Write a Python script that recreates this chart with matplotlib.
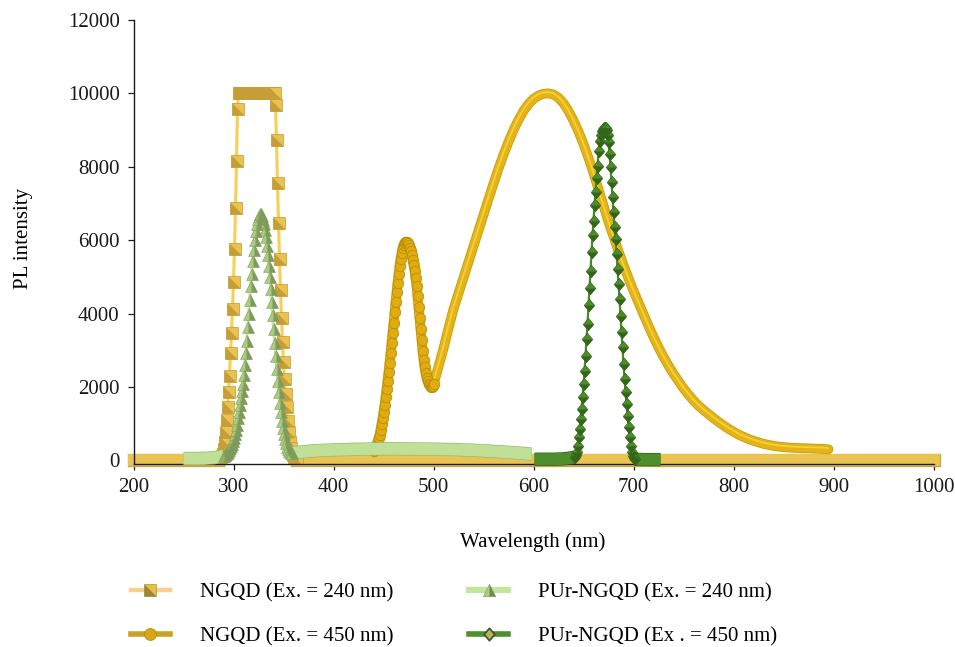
import numpy as np
import matplotlib
matplotlib.use("Agg")
import matplotlib.pyplot as plt
from matplotlib.path import Path
from matplotlib.lines import Line2D
from matplotlib.legend_handler import HandlerTuple
import matplotlib.patheffects as pe

plt.rcParams['font.family'] = ['Liberation Serif', 'DejaVu Serif']

# ---------------- data ----------------
# NGQD, Ex. = 240 nm  (baseline, 1 nm resolved peak, baseline)
ngqd240_base_wl = [200, 284]
ngqd240_base = [0, 0]
ngqd240_peak_wl = list(range(284, 364))
ngqd240_peak = ([0, 20, 40, 70, 110, 170, 320, 490, 770, 1090, 1450, 1860, 2310,
                 2930, 3480, 4130, 4870, 5760, 6870, 8160, 9580]
                + [10000] * 37
                + [9670, 8720, 7560, 6470, 5490, 4630, 3870, 3230, 2690, 2220, 1810,
                   1450, 1080, 760, 490, 330, 220, 140, 90, 50, 20, 0])
ngqd240_tail_wl = [363, 1000]
ngqd240_tail = [0, 0]

# NGQD, Ex. = 450 nm  (1 nm steps over the first band, 5 nm steps after)
ngqd450_fine_wl = list(range(440, 501))
ngqd450_fine = [250, 300, 360, 430, 510, 600, 700, 830, 980, 1140,
                1320, 1510, 1720, 1940, 2170, 2410, 2660, 2920, 3190, 3470,
                3750, 4030, 4310, 4580, 4840, 5080, 5300, 5490, 5650, 5780,
                5870, 5930, 5960, 5950, 5920, 5870, 5800, 5710, 5600, 5470,
                5320, 5150, 4960, 4750, 4470, 4170, 3870, 3570, 3270, 2980,
                2730, 2530, 2370, 2250, 2160, 2090, 2040, 2010, 2000, 2020,
                2070]
ngqd450_wl = list(range(505, 900, 5))
ngqd450 = [2550, 3050, 3600, 4120, 4550, 4980, 5410, 5840, 6270, 6700,
           7120, 7540, 7950, 8330, 8680, 9000, 9280, 9520, 9710, 9850,
           9940, 9990, 10000, 9970, 9880, 9730, 9520, 9260, 8960, 8620,
           8240, 7830, 7390, 6940, 6500, 6100, 5700, 5320, 4960, 4620,
           4300, 3980, 3660, 3360, 3080, 2820, 2580, 2360, 2160, 1960,
           1790, 1630, 1490, 1370, 1260, 1150, 1050, 950, 860, 780,
           700, 640, 580, 530, 490, 450, 420, 395, 375, 360,
           350, 340, 335, 330, 325, 320, 315, 310, 300]

# PUr-NGQD, Ex. = 240 nm
pur240_base_wl = [250, 260, 270, 280, 290]
pur240_base = [50, 50, 55, 70, 120]
pur240_peak_wl = list(range(290, 359))
pur240_peak = [120, 140, 170, 200, 240, 280, 330, 390, 450, 520,
               610, 720, 840, 970, 1140, 1320, 1510, 1690, 1880, 2070,
               2320, 2600, 2920, 3260, 3620, 3990, 4370, 4740, 5090, 5420,
               5730, 6010, 6250, 6440, 6580, 6670, 6710, 6700, 6650, 6560,
               6440, 6280, 6080, 5850, 5590, 5300, 4990, 4660, 4310, 3950,
               3580, 3210, 2850, 2500, 2170, 1860, 1570, 1310, 1080, 880,
               710, 570, 460, 370, 300, 250, 220, 200, 200]
pur240_tail_wl = [358, 380, 400, 420, 440, 460, 480, 500, 520, 540, 560, 580, 598]
pur240_tail = [200, 260, 285, 300, 310, 315, 310, 305, 295, 275, 245, 210, 170]

# PUr-NGQD, Ex. = 450 nm
pur450_base_wl = [601, 610, 620, 630, 641]
pur450_base = [30, 30, 30, 40, 80]
pur450_peak_wl = list(range(641, 702))
pur450_peak = [80, 150, 220, 400, 630, 850, 1130, 1400, 1720, 2080,
               2440, 2850, 3310, 3720, 4220, 4690, 5170, 5670, 6130, 6530,
               6960, 7320, 7690, 8030, 8420, 8700, 8870, 8970, 9030, 9060,
               9070, 9060, 9000, 8870, 8670, 8350, 7990, 7580, 7170, 6760,
               6350, 6040, 5630, 5220, 4800, 4400, 3940, 3490, 3080, 2620,
               2220, 1850, 1530, 1220, 900, 630, 400, 220, 120, 60,
               30]
pur450_tail_wl = [701, 710, 720, 727]
pur450_tail = [30, 20, 20, 20]

labels = ["NGQD (Ex. = 240 nm)", "NGQD (Ex. = 450 nm)",
          "PUr-NGQD (Ex. = 240 nm)", "PUr-NGQD (Ex . = 450 nm)"]
x_ticks = [200, 300, 400, 500, 600, 700, 800, 900, 1000]
y_ticks = [0, 2000, 4000, 6000, 8000, 10000, 12000]

# ---------------- marker shapes ----------------
half_square = Path([(-1, 1), (-1, -1), (1, -1), (-1, 1)], closed=True)
tri_full = Path([(0, 1), (-1, -1), (1, -1), (0, 1)], closed=True)
tri_right = Path([(0, 1), (0, -1), (1, -1), (0, 1)], closed=True)
diamond = Path([(0, 1), (0.85, 0), (0, -1), (-0.85, 0), (0, 1)], closed=True)
diamond_low = Path([(-0.85, 0), (0.85, 0), (0, -1), (-0.85, 0)], closed=True)

BAND_LW = 8.6
FS = 15

fig = plt.figure(figsize=(9.55, 6.47), dpi=100)
ax = fig.add_axes([133.5 / 955, 1 - 464 / 647, 800 / 955, 444 / 647])
ax.set_xlim(200, 1000)
ax.set_ylim(-100, 12000)


def band(wl, val, color, edge, z, cap='butt'):
    ax.plot(wl, val, color=color, lw=BAND_LW, solid_capstyle=cap, zorder=z,
            clip_on=False,
            path_effects=[pe.Stroke(linewidth=BAND_LW + 1.0, foreground=edge),
                          pe.Normal()])


# NGQD 240
band(ngqd240_base_wl, ngqd240_base, '#E9C453', '#CBA63E', 2, 'projecting')
band(ngqd240_tail_wl, ngqd240_tail, '#E9C453', '#CBA63E', 2, 'projecting')
ax.plot(ngqd240_peak_wl, ngqd240_peak, color='#F8CF55', lw=2.2, zorder=2.1)
ax.plot(ngqd240_peak_wl, ngqd240_peak, ls='none', marker='s', ms=8.3,
        mfc='#E9C250', mec='#BF9A34', mew=0.5, zorder=2.2)
ax.plot(ngqd240_peak_wl, ngqd240_peak, ls='none', marker=half_square, ms=8.3,
        mfc='#C59E38', mec='none', zorder=2.3)

# NGQD 450
tube_wl = ngqd450_fine_wl + ngqd450_wl
tube_val = ngqd450_fine + ngqd450
ax.plot(tube_wl, tube_val, color='#E4B414', lw=6.0, solid_capstyle='round',
        solid_joinstyle='round', zorder=3,
        path_effects=[pe.Stroke(linewidth=7.0, foreground='#C29506'), pe.Normal(),
                      pe.Stroke(offset=(-0.3, 0.9), linewidth=1.3, foreground='#F3CF45')])
ax.plot(ngqd450_fine_wl, ngqd450_fine, ls='none', marker='o', ms=7.5,
        mfc='#E0AC10', mec='#BB8E06', mew=0.6, zorder=3.2)

# PUr-NGQD 240
band(pur240_base_wl, pur240_base, '#BFE096', '#98B873', 4)
band(pur240_tail_wl, pur240_tail, '#BFE096', '#98B873', 4)
ax.plot(pur240_peak_wl, pur240_peak, color='#C6E4A0', lw=2.0, zorder=4.1)
ax.plot(pur240_peak_wl, pur240_peak, ls='none', marker=tri_full, ms=8.5,
        mfc='#A9CC7E', mec='#7F9C5E', mew=0.4, zorder=4.2)
ax.plot(pur240_peak_wl, pur240_peak, ls='none', marker=tri_right, ms=8.5,
        mfc='#7E9B5C', mec='none', zorder=4.3)

# PUr-NGQD 450
band(pur450_base_wl, pur450_base, '#4E8E2C', '#2F6018', 5)
band(pur450_tail_wl, pur450_tail, '#4E8E2C', '#2F6018', 5)
ax.plot(pur450_peak_wl, pur450_peak, color='#4A8A2A', lw=1.6, zorder=5.1)
ax.plot(pur450_peak_wl, pur450_peak, ls='none', marker=diamond, ms=9.0,
        mfc='#4C8D2A', mec='#2E5E17', mew=0.4, zorder=5.2)
ax.plot(pur450_peak_wl, pur450_peak, ls='none', marker=diamond_low, ms=9.0,
        mfc='#33661B', mec='none', zorder=5.3)

# ---------------- axes ----------------
for side in ('top', 'right'):
    ax.spines[side].set_visible(False)
for side in ('left', 'bottom'):
    ax.spines[side].set_linewidth(1.0)
    ax.spines[side].set_color('#1a1a1a')
ax.set_xticks(x_ticks)
ax.set_yticks(y_ticks)
ax.tick_params(axis='both', direction='out', length=4, width=0.9,
               labelsize=FS, colors='#1a1a1a')
ax.tick_params(axis='y', pad=6.0)
ax.tick_params(axis='x', pad=6)
ax.set_xlabel("Wavelength (nm)", fontsize=FS)
ax.set_ylabel("PL intensity", fontsize=FS)
ax.xaxis.set_label_coords((533 - 133.5) / 800, (464 - 532) / 444)
ax.yaxis.set_label_coords((33 - 133.5) / 800, (464 - 238) / 444)

# ---------------- legend ----------------
h1 = (Line2D([], [], color='#F9CF8C', lw=3.2, marker='s', ms=8.3,
             mfc='#E6BE4C', mec='#B8922E', mew=0.5),
      Line2D([], [], ls='none', marker=half_square, ms=8.3, mfc='#9E8536', mec='none'))
h2 = (Line2D([], [], color='#C9A227', lw=4, marker='o', ms=8.5,
             mfc='#D8A814', mec='#B08A0A', mew=0.6),)
h3 = (Line2D([], [], color='#C3E59C', lw=4.5, marker=tri_full, ms=9,
             mfc='#A9CC7E', mec='#7F9C5E', mew=0.4),
      Line2D([], [], ls='none', marker=tri_right, ms=9, mfc='#6F8A4F', mec='none'))
h4 = (Line2D([], [], color='#4F8F2F', lw=4, marker=diamond, ms=9,
             mfc='#C9A66A', mec='#2E5E17', mew=1.2),)
fig.legend([h1, h2, h3, h4], labels, loc='upper left',
           bbox_to_anchor=(131 / 955, 1 - 583 / 647), ncol=2, frameon=False,
           fontsize=FS, handlelength=1.85, handletextpad=1.45, columnspacing=3.65,
           labelspacing=1.15, borderpad=0, borderaxespad=0,
           handler_map={tuple: HandlerTuple(ndivide=1)})

fig.savefig("out.png", dpi=100)
